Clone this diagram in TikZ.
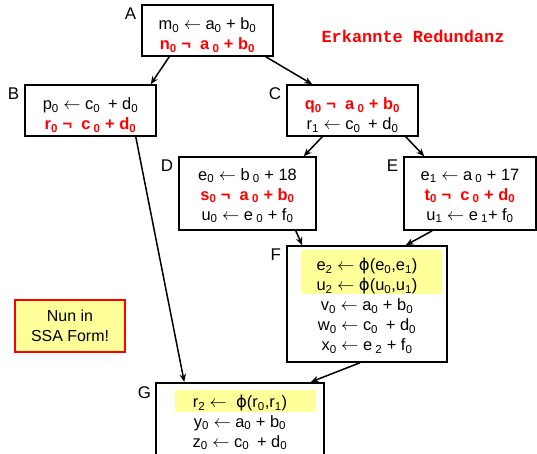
\documentclass[tikz,border=0pt]{standalone}
\usepackage{fontspec}
\setmainfont{Liberation Sans}
\newfontfamily\phifont{DejaVu Sans}
\newfontfamily\notefont{Liberation Mono}
\usetikzlibrary{arrows.meta,backgrounds}
\definecolor{hiyel}{RGB}{255,255,153}
\newcommand\ix[1]{\textsubscript{#1}}
\newcommand\fii{{\phifont ϕ}}
\newcommand\lar{$\leftarrow$}
\newcommand\redl[1]{{\color{red}\bfseries #1}}
\newcommand\topstrut[1][21bp]{\rule{0pt}{#1}}
\tikzset{
  >={Stealth[length=8bp,width=6.5bp]},
  bbox/.style={draw=black,line width=1.5bp,align=center,inner sep=2bp,
    font=\fontsize{16.5}{20}\selectfont},
  blab/.style={anchor=north east,inner sep=0pt,font=\fontsize{17}{20}\selectfont},
  cflow/.style={->,line width=1.5bp},
  hilite/.style={fill=hiyel},
  ssanote/.style={draw=red,fill=hiyel,line width=1.5bp,align=center,
    font=\fontsize{16}{20}\selectfont,minimum width=110bp,minimum height=52bp},
  rednote/.style={text=red,font=\notefont\bfseries\fontsize{17}{20}\selectfont},
}
\begin{document}
\begin{tikzpicture}[x=1bp,y=-1bp]
  \useasboundingbox (0,0) rectangle (537,454);
  % basic blocks
  \node[bbox,minimum width=131bp,minimum height=51bp] (A) at (207.5,30.5)
    {\topstrut m\ix0 \lar{} a\ix0 + b\ix0\\ \redl{n\ix0 ¬\ \ a\ix{\ 0} + b\ix0}};
  \node[bbox,minimum width=131bp,minimum height=51bp] (B) at (90.5,110.5)
    {\topstrut p\ix0 \lar{} c\ix{0\ } + d\ix0\\ \redl{r\ix0 ¬\ \ c\ix{\ 0} + d\ix0}};
  \node[bbox,minimum width=131bp,minimum height=51bp] (C) at (352.5,110.5)
    {\topstrut\redl{q\ix0 ¬\ \ a\ix{\ 0} + b\ix0}\\ r\ix1 \lar{} c\ix{0\ } + d\ix0};
  \node[bbox,minimum width=137bp,minimum height=73bp] (D) at (247.5,193.5)
    {\topstrut[16bp]e\ix0 \lar{} b\ix{\ 0} + 18\\ \redl{s\ix0 ¬\ \ a\ix{\ 0} + b\ix0}\\ u\ix0 \lar{} e\ix{\ 0} + f\ix0};
  \node[bbox,minimum width=132bp,minimum height=73bp] (E) at (470,193.5)
    {\topstrut[16bp]e\ix1 \lar{} a\ix{\ 0} + 17\\ \redl{t\ix0 ¬\ \ c\ix{\ 0} + d\ix0}\\ u\ix1 \lar{} e\ix{\ 1}+ f\ix0};
  \node[bbox,minimum width=160bp,minimum height=116bp] (F) at (367,304)
    {\topstrut[16bp]e\ix2 \lar{} \fii(e\ix0,e\ix1)\\ u\ix2 \lar{} \fii(u\ix0,u\ix1)\\ v\ix0 \lar{} a\ix0 + b\ix0\\
     w\ix0 \lar{} c\ix{0\ } + d\ix0\\ x\ix0 \lar{} e\ix{\ 2} + f\ix0};
  \node[bbox,minimum width=168bp,minimum height=78bp,anchor=north] (G) at (240,382)
    {\topstrut[14bp]r\ix2 \lar\ \ \fii(r\ix0,r\ix1)\\ y\ix0 \lar{} a\ix0 + b\ix0\\ z\ix0 \lar{} c\ix{0\ } + d\ix0};
  % block names
  \node[blab] (labA) at ([xshift=-5bp,yshift=-3.5bp]A.north west) {A};
  \node[blab] (labB) at ([xshift=-5bp,yshift=-3.5bp]B.north west) {B};
  \node[blab] (labC) at ([xshift=-5bp,yshift=-3.5bp]C.north west) {C};
  \node[blab] (labD) at ([xshift=-5bp,yshift=-3.5bp]D.north west) {D};
  \node[blab] (labE) at ([xshift=-5bp,yshift=-3.5bp]E.north west) {E};
  \node[blab] (labF) at ([xshift=-5bp,yshift=-3.5bp]F.north west) {F};
  \node[blab] (labG) at ([xshift=-4bp,yshift=-4.5bp]G.north west) {G};
  % phi lines
  \begin{scope}[on background layer]
    \fill[hilite] ([xshift=15bp,yshift=-5bp]F.north west) rectangle ([xshift=-6bp,yshift=-49bp]F.north east);
    \fill[hilite] ([xshift=20bp,yshift=-8bp]G.north west) rectangle ([xshift=-9bp,yshift=-30bp]G.north east);
  \end{scope}
  \node[rednote] (redund) at (413,36) {Erkannte Redundanz};
  \node[ssanote] (ssa) at (70,326) {Nun in\\ SSA Form!};
  % control flow
  \draw[cflow] ([xshift=28bp]A.south west) -- ([xshift=-6bp]B.north east);
  \draw[cflow] ([xshift=-8bp]A.south east) -- ([xshift=26bp]C.north west);
  \draw[cflow] ([xshift=-21bp]B.south east) -- ([xshift=29bp]G.north west);
  \draw[cflow] ([xshift=36bp]C.south west) -- ([xshift=-13bp]D.north east);
  \draw[cflow] ([xshift=-13bp]C.south east) -- ([xshift=21bp]E.north west);
  \draw[cflow] ([xshift=-21bp]D.south east) -- ([xshift=16bp]F.north west);
  \draw[cflow] ([xshift=29bp]E.south west) -- ([xshift=-42bp]F.north east);
  \draw[cflow] ([xshift=-7bp]F.south) -- ([xshift=-14bp]G.north east);
\end{tikzpicture}
\end{document}
